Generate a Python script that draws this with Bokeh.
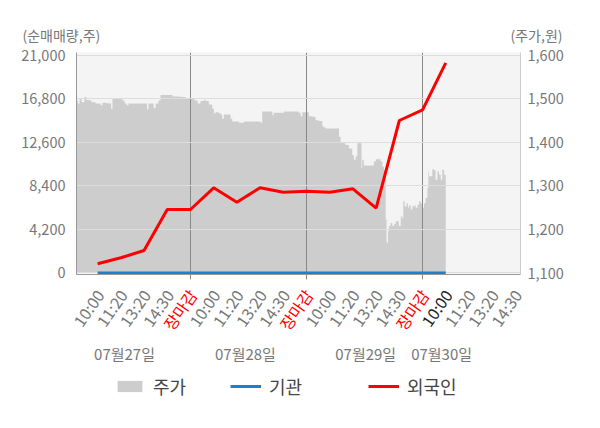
from bokeh.plotting import figure
from bokeh.layouts import column
from bokeh.models import (Range1d, LinearAxis, FixedTicker, NumeralTickFormatter,
                          Legend, LegendItem)
from bokeh.core.properties import value
from bokeh.embed import file_html
from bokeh.resources import INLINE

FONT = "Noto Sans CJK KR"

# x axis: label-slot index (each tick label occupies one slot)
time_labels = ["10:00", "11:20", "13:20", "14:30", "장마감"] * 3 + ["10:00", "11:20", "13:20", "14:30"]
label_slots = list(range(1, 20))
date_labels = ["07월27일", "07월28일", "07월29일", "07월30일"]
date_pos = [2.16, 7.37, 12.55, 15.82]
day_breaks = [5, 10, 15]

vol_ticks = [0, 4200, 8400, 12600, 16800, 21000]
price_ticks = [1100, 1200, 1300, 1400, 1500, 1600]

# net purchase (shares) at each slot
flow_slots = list(range(1, 17))
foreign = [887, 1466, 2170, 6124, 6124, 8217, 6828, 8217, 7792, 7889, 7792, 8120, 6249, 14707, 15739, 20272]
institution = [0, 0, 0, 0, 0, 0, 0, 0, 0, 0, 0, 0, 0, 0, 0, 0]

# share price (won)
price_x = [0.09, 0.15, 0.22, 0.31, 0.43, 0.52, 0.65, 0.74, 0.91, 1.08, 1.12, 1.21, 1.38, 1.51, 1.58, 1.64, 1.81, 2.07, 2.16, 2.25,
           2.33, 2.85, 3.06, 3.13, 3.19, 3.37, 3.41, 3.50, 3.62, 3.71, 3.93, 4.23, 4.57, 4.79, 4.96,
           5.09, 5.18, 5.31, 5.43, 5.58, 5.65, 5.79, 5.94, 6.01, 6.08, 6.22, 6.30, 6.37, 6.44, 6.65, 6.73, 6.80, 6.94, 7.09, 7.23,
           7.30, 7.95, 8.02, 8.09, 8.45, 8.53, 8.59, 8.96, 9.03, 9.67, 9.75, 9.82, 9.96,
           10.10, 10.25, 10.39, 10.53, 10.68, 10.75, 10.82, 11.33, 11.40, 11.47, 11.54, 11.61, 11.68, 11.83, 11.97, 12.04, 12.12,
           12.19, 12.26, 12.33, 12.37, 12.40, 12.47, 12.84, 12.90, 12.98, 13.12, 13.19, 13.27, 13.34, 13.41, 13.45, 13.51, 13.55,
           13.62, 13.70, 13.77, 13.84, 13.91, 13.98, 14.06, 14.13, 14.17, 14.23, 14.31, 14.37, 14.41, 14.49, 14.56, 14.63, 14.70,
           14.78, 14.85, 14.92, 14.99,
           15.06, 15.13, 15.21, 15.25, 15.28, 15.35, 15.42, 15.49, 15.56, 15.64, 15.71, 15.78, 15.85, 15.93, 16.00]
price = [1496, 1489, 1500, 1492, 1504, 1497, 1496, 1492, 1489, 1489, 1485, 1491, 1490, 1489, 1477, 1500, 1500, 1496, 1489, 1485,
         1489, 1489, 1489, 1476, 1489, 1489, 1479, 1489, 1496, 1509, 1509, 1505, 1504, 1502, 1500,
         1500, 1496, 1489, 1495, 1498, 1495, 1487, 1477, 1466, 1469, 1467, 1464, 1454, 1464, 1464, 1454, 1448, 1448, 1445, 1445,
         1448, 1448, 1445, 1471, 1471, 1462, 1468, 1468, 1471, 1468, 1460, 1469, 1469,
         1460, 1459, 1451, 1449, 1437, 1434, 1432, 1432, 1413, 1401, 1401, 1398, 1394, 1386, 1371, 1360, 1368,
         1398, 1400, 1398, 1341, 1360, 1347, 1347, 1356, 1361, 1361, 1356, 1344, 1337, 1223, 1170, 1196, 1208,
         1215, 1208, 1212, 1219, 1219, 1208, 1230, 1226, 1265, 1253, 1260, 1250, 1255, 1246, 1253, 1255, 1250,
         1257, 1265, 1260, 1250,
         1260, 1272, 1295, 1333, 1322, 1322, 1338, 1336, 1314, 1333, 1326, 1314, 1337, 1325, 1337]

label_colors = ["#ff0000" if t == "장마감" else "#777777" for t in time_labels]
label_colors[15] = "#222222"

AREA_C, INST_C, FORN_C = "#cdcdcd", "#1b80cf", "#ff0000"
W = 600
LEFT, RIGHT = 76, 80
X0, X1 = 0.09, 19.22


def strip(height, x_range):
    f = figure(width=W, height=height, output_backend="svg", toolbar_location=None,
               x_range=x_range, y_range=Range1d(0, height), x_axis_type=None, y_axis_type=None,
               min_border=0, outline_line_color=None, frame_align=False,
               background_fill_color="white", border_fill_color="white")
    f.title.visible = False
    return f


# ---------- top strip: axis titles ----------
pt = strip(44, Range1d(0, W))
pt.text(x=[22], y=[10], text=["(순매매량,주)"], text_align="left", text_baseline="middle",
        text_font=value(FONT), text_font_size="14px", text_color="#777777")
pt.text(x=[562], y=[10], text=["(주가,원)"], text_align="right", text_baseline="middle",
        text_font=value(FONT), text_font_size="14px", text_color="#777777")

# ---------- main chart ----------
p = figure(width=W, height=238, output_backend="svg", toolbar_location=None,
           x_range=Range1d(X0, X1), y_range=Range1d(-145, 21265), frame_align=False,
           min_border_left=LEFT, min_border_right=RIGHT, min_border_top=8, min_border_bottom=8,
           background_fill_color="#f4f4f4", border_fill_color="white", outline_line_color=None)
p.title.visible = False
p.extra_y_ranges = {"price": Range1d(1096.6, 1606.3)}

p.varea_step(x=price_x, y1=[1100] * len(price_x), y2=price, step_mode="after",
             y_range_name="price", fill_color=AREA_C, level="underlay")
p.line(flow_slots, institution, line_color=INST_C, line_width=3)
p.line(flow_slots, foreign, line_color=FORN_C, line_width=3)

ya = p.yaxis[0]
ya.ticker = FixedTicker(ticks=vol_ticks)
ya.formatter = NumeralTickFormatter(format="0,0")
ya.major_tick_out = 0
ya.major_tick_in = 0
ya.minor_tick_out = 0
ya.minor_tick_in = 0
ya.major_label_standoff = 11
ya.axis_line_color = "#999999"
ya.major_label_text_font = FONT
ya.major_label_text_font_size = "14.5px"
ya.major_label_text_color = "#777777"

ra = LinearAxis(y_range_name="price", ticker=FixedTicker(ticks=price_ticks),
                formatter=NumeralTickFormatter(format="0,0"))
ra.major_tick_out = 0
ra.major_tick_in = 0
ra.minor_tick_out = 0
ra.minor_tick_in = 0
ra.major_label_standoff = 7
ra.axis_line_color = "#cccccc"
ra.major_label_text_font = FONT
ra.major_label_text_font_size = "14.5px"
ra.major_label_text_color = "#777777"
p.add_layout(ra, "right")

# bottom axis: only tick marks at the day boundaries (labels drawn in the strip below)
xa = p.xaxis[0]
xa.ticker = FixedTicker(ticks=[], minor_ticks=day_breaks)
xa.major_tick_out = 0
xa.major_tick_in = 0
xa.minor_tick_out = 5
xa.minor_tick_in = 0
xa.minor_tick_line_color = "#888888"
xa.axis_line_color = "#999999"

p.ygrid.ticker = FixedTicker(ticks=vol_ticks)
p.ygrid.grid_line_color = "#dddddd"
p.xgrid.ticker = FixedTicker(ticks=day_breaks)
p.xgrid.grid_line_color = "#888888"

# ---------- bottom strip: time labels, dates, legend ----------
px_per = (W - LEFT - RIGHT) / (X1 - X0)
BH = 146
pb = strip(BH, Range1d(X0 - LEFT / px_per, X1 + RIGHT / px_per))
pb.text(x=label_slots, y=[137] * len(label_slots), text=time_labels, angle=0.96,
        text_align="right", text_baseline="middle", x_offset=2,
        text_font=value(FONT), text_font_size="16px", text_color=label_colors)
pb.text(x=date_pos, y=[75] * len(date_pos), text=date_labels, text_align="center",
        text_baseline="middle", text_font=value(FONT), text_font_size="15px", text_color="#777777")

# legend entries: the same series, plotted on an off-screen range of this strip
pb.extra_y_ranges = {"off": Range1d(-2, -1)}
r_area = pb.varea_step(x=price_x, y1=[1100] * len(price_x), y2=price, step_mode="after",
                       y_range_name="off", fill_color=AREA_C)
r_inst = pb.line(flow_slots, institution, y_range_name="off", line_color=INST_C, line_width=3)
r_forn = pb.line(flow_slots, foreign, y_range_name="off", line_color=FORN_C, line_width=3)


def add_legend(renderer, text, x):
    lg = Legend(items=[LegendItem(label=text, renderers=[renderer])], location=(x, 29),
                orientation="horizontal", padding=0, margin=0, border_line_color=None,
                background_fill_alpha=0, glyph_width=31, glyph_height=14, label_standoff=8,
                label_height=20, label_text_font=FONT, label_text_font_size="18px",
                label_text_color="#444444")
    pb.add_layout(lg, "center")


add_legend(r_area, "주가", 114)
add_legend(r_inst, "기관", 230)
add_legend(r_forn, "외국인", 368)

layout = column(pt, p, pb, spacing=0)
open("out.html", "w").write(file_html(layout, INLINE))
